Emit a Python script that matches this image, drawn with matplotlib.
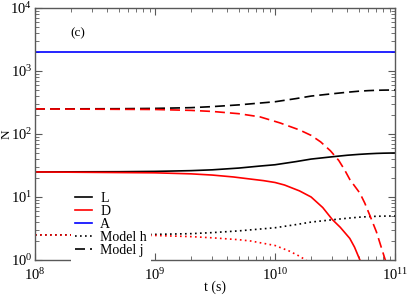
import matplotlib
matplotlib.use("Agg")
import matplotlib.pyplot as plt

# time axis (s) for the rising black curves
t = [1e8, 5e8, 1e9, 2e9, 3e9, 5e9, 7.5e9, 1e10, 1.5e10, 2e10, 3e10, 4e10, 5e10, 6e10, 7e10, 8e10, 1e11]
L_vals = [25, 25.2, 25.5, 26.2, 27, 28.8, 31, 32.5, 36.5, 40, 43.5, 46, 47.5, 48.5, 49.2, 49.6, 50]
j_black = [250, 252, 255, 262, 272, 290, 310, 325, 365, 400, 435, 460, 478, 488, 494, 497, 500]
h_black = [2.5, 2.52, 2.55, 2.62, 2.72, 2.9, 3.1, 3.25, 3.65, 4.0, 4.35, 4.6, 4.78, 4.88, 4.94, 4.97, 5.0]

# red curves (D and models), decaying
tD = [1e8, 1e9, 2e9, 3e9, 4.5e9, 6.2e9, 8e9, 1e10, 1.2e10, 1.6e10, 2e10, 2.5e10, 3e10, 3.5e10, 4.2e10, 4.6e10, 5.1e10, 5.6e10]
D_vals = [25, 24.2, 23.3, 22.3, 20.8, 19.3, 18.2, 17, 15.5, 12.5, 10, 6.8, 4.4, 3.3, 2.2, 1.6, 1.0, 0.6]

tj = [1e8, 1e9, 2e9, 3e9, 5e9, 7.5e9, 1.1e10, 1.6e10, 2e10, 2.4e10, 2.9e10, 3.4e10, 3.8e10, 4.2e10, 4.6e10, 5.1e10, 5.6e10, 6.2e10, 7e10, 7.6e10, 8.3e10, 9e10]
j_red = [250, 245, 237, 228, 210, 187, 150, 116, 95, 75, 54, 38, 27, 19, 15, 11.5, 8, 5, 2.8, 1.7, 1.0, 0.6]

th = [1e8, 1e9, 2e9, 3e9, 5e9, 6.3e9, 1e10, 1.3e10, 1.6e10, 1.8e10, 2e10]
h_red = [2.5, 2.45, 2.35, 2.25, 2.1, 2.0, 1.7, 1.4, 1.15, 1.0, 0.88]

A_val = 2000

def main():
	plt.rcParams['font.family'] = ['Liberation Serif', 'DejaVu Serif']
	plt.rcParams['mathtext.fontset'] = 'stix'

	fig = plt.figure(figsize=(4.07, 2.95), dpi=100)
	ax = fig.add_axes([35/407, 1-260/295, 360/407, 252/295])

	lw = 1.2
	ax.plot(t, L_vals, color='black', lw=lw, label='L')
	ax.plot(tD, D_vals, color='red', lw=lw, label='D')
	ax.plot([t[0], t[-1]], [A_val, A_val], color='blue', lw=lw, label='A')
	ax.plot(t, h_black, color='black', lw=lw, ls=(0, (1, 2)), label='Model h')
	ax.plot(th, h_red, color='red', lw=lw, ls=(0, (1, 2)))
	ax.plot(t, j_black, color='black', lw=lw, ls=(0, (6, 3)), label='Model j')
	ax.plot(tj, j_red, color='red', lw=lw, ls=(0, (6, 3)))

	ax.set_xscale('log')
	ax.set_yscale('log')
	ax.set_xlim(1e8, 1e11)
	ax.set_ylim(1, 1e4)

	for s in ax.spines.values():
		s.set_color('0.35')
		s.set_linewidth(1.0)
	ax.tick_params(which='both', direction='in', top=True, right=True, color='0.35', labelsize=10.5)
	ax.tick_params(which='major', length=5)
	ax.tick_params(which='minor', length=3)
	ax.tick_params(axis='y', pad=2)
	ax.tick_params(axis='x', pad=5)

	ax.set_xlabel('t (s)', fontsize=10)
	ax.set_ylabel('N', fontsize=9.5)
	ax.xaxis.set_label_coords(0.5, -0.083)
	ax.yaxis.set_label_coords(-0.063, 0.5)
	ax.text(0.12, 0.9, '(c)', transform=ax.transAxes, fontsize=9.5, ha='center', va='center')

	ax.legend(loc='upper left', bbox_to_anchor=(0.1, 0.285), borderaxespad=0,
		frameon=True, fancybox=False, edgecolor='none', facecolor='white', framealpha=1,
		fontsize=10, handlelength=1.2, handletextpad=0.6, labelspacing=0.0, borderpad=0.3)

	fig.savefig('out.png', dpi=100)


if __name__ == "__main__":
	main()
